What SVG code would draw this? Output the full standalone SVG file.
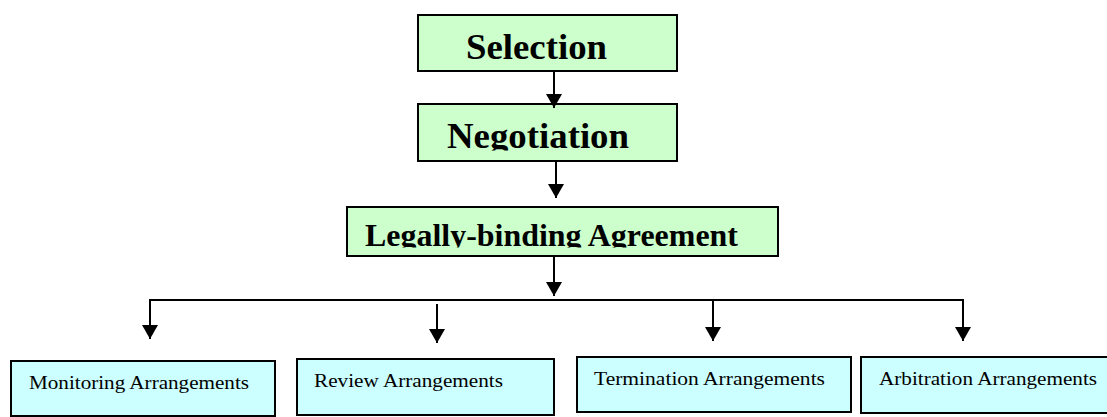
<svg xmlns="http://www.w3.org/2000/svg" width="1107" height="417" viewBox="0 0 1107 417">
<style>
.g{fill:#CCFFCC;stroke:#000;stroke-width:2}
.c{fill:#CCFFFF;stroke:#000;stroke-width:2}
.tb{font-family:"Liberation Serif","Times New Roman",serif;font-weight:bold;fill:#000}
.tr{font-family:"Liberation Serif","Times New Roman",serif;font-size:18.5px;fill:#000}
.ln{stroke:#000;stroke-width:2;fill:none}
</style>
<defs>
<marker id="ah" viewBox="0 0 14 16" markerWidth="14" markerHeight="16" refX="14" refY="8" orient="auto" markerUnits="userSpaceOnUse">
<path d="M0,0 L14,8 L0,16 Z" fill="#000"/>
</marker>
<clipPath id="cNeg"><rect x="418" y="104" width="259" height="46.5"/></clipPath>
<clipPath id="cLeg"><rect x="347" y="207" width="431" height="40.5"/></clipPath>
</defs>
<rect width="1107" height="417" fill="#fff"/>
<g id="selection">
<rect class="g" x="418" y="15" width="259" height="56"/>
<text class="tb" x="466" y="59" font-size="36" textLength="141" lengthAdjust="spacingAndGlyphs">Selection</text>
</g>
<g id="negotiation">
<rect class="g" x="418" y="104" width="259" height="57"/>
<text class="tb" x="447" y="148.3" font-size="36" textLength="182" lengthAdjust="spacingAndGlyphs" clip-path="url(#cNeg)">Negotiation</text>
</g>
<g id="agreement">
<rect class="g" x="347" y="207" width="431" height="49"/>
<text class="tb" x="365" y="245.7" font-size="31" textLength="373" lengthAdjust="spacingAndGlyphs" clip-path="url(#cLeg)">Legally-binding Agreement</text>
</g>
<g id="monitoring">
<rect class="c" x="11" y="361" width="264" height="55"/>
<text class="tr" x="29" y="389" textLength="220" lengthAdjust="spacingAndGlyphs">Monitoring Arrangements</text>
</g>
<g id="review">
<rect class="c" x="297" y="359" width="257" height="56"/>
<text class="tr" x="314" y="387" textLength="189" lengthAdjust="spacingAndGlyphs">Review Arrangements</text>
</g>
<g id="termination">
<rect class="c" x="577" y="357" width="274" height="55"/>
<text class="tr" x="594" y="385" textLength="231" lengthAdjust="spacingAndGlyphs">Termination Arrangements</text>
</g>
<g id="arbitration">
<rect class="c" x="861" y="357" width="260" height="56"/>
<text class="tr" x="879" y="385" textLength="218" lengthAdjust="spacingAndGlyphs">Arbitration Arrangements</text>
</g>
<g id="connectors">
<line class="ln" x1="554" y1="71" x2="554" y2="108" marker-end="url(#ah)"/>
<line class="ln" x1="556" y1="161" x2="556" y2="198" marker-end="url(#ah)"/>
<line class="ln" x1="554" y1="256" x2="554" y2="296" marker-end="url(#ah)"/>
<line class="ln" x1="149" y1="300" x2="964" y2="300"/>
<line class="ln" x1="150" y1="299" x2="150" y2="339" marker-end="url(#ah)"/>
<line class="ln" x1="437" y1="304" x2="437" y2="343" marker-end="url(#ah)"/>
<line class="ln" x1="713" y1="299" x2="713" y2="341" marker-end="url(#ah)"/>
<line class="ln" x1="963" y1="299" x2="963" y2="341" marker-end="url(#ah)"/>
</g>
</svg>
